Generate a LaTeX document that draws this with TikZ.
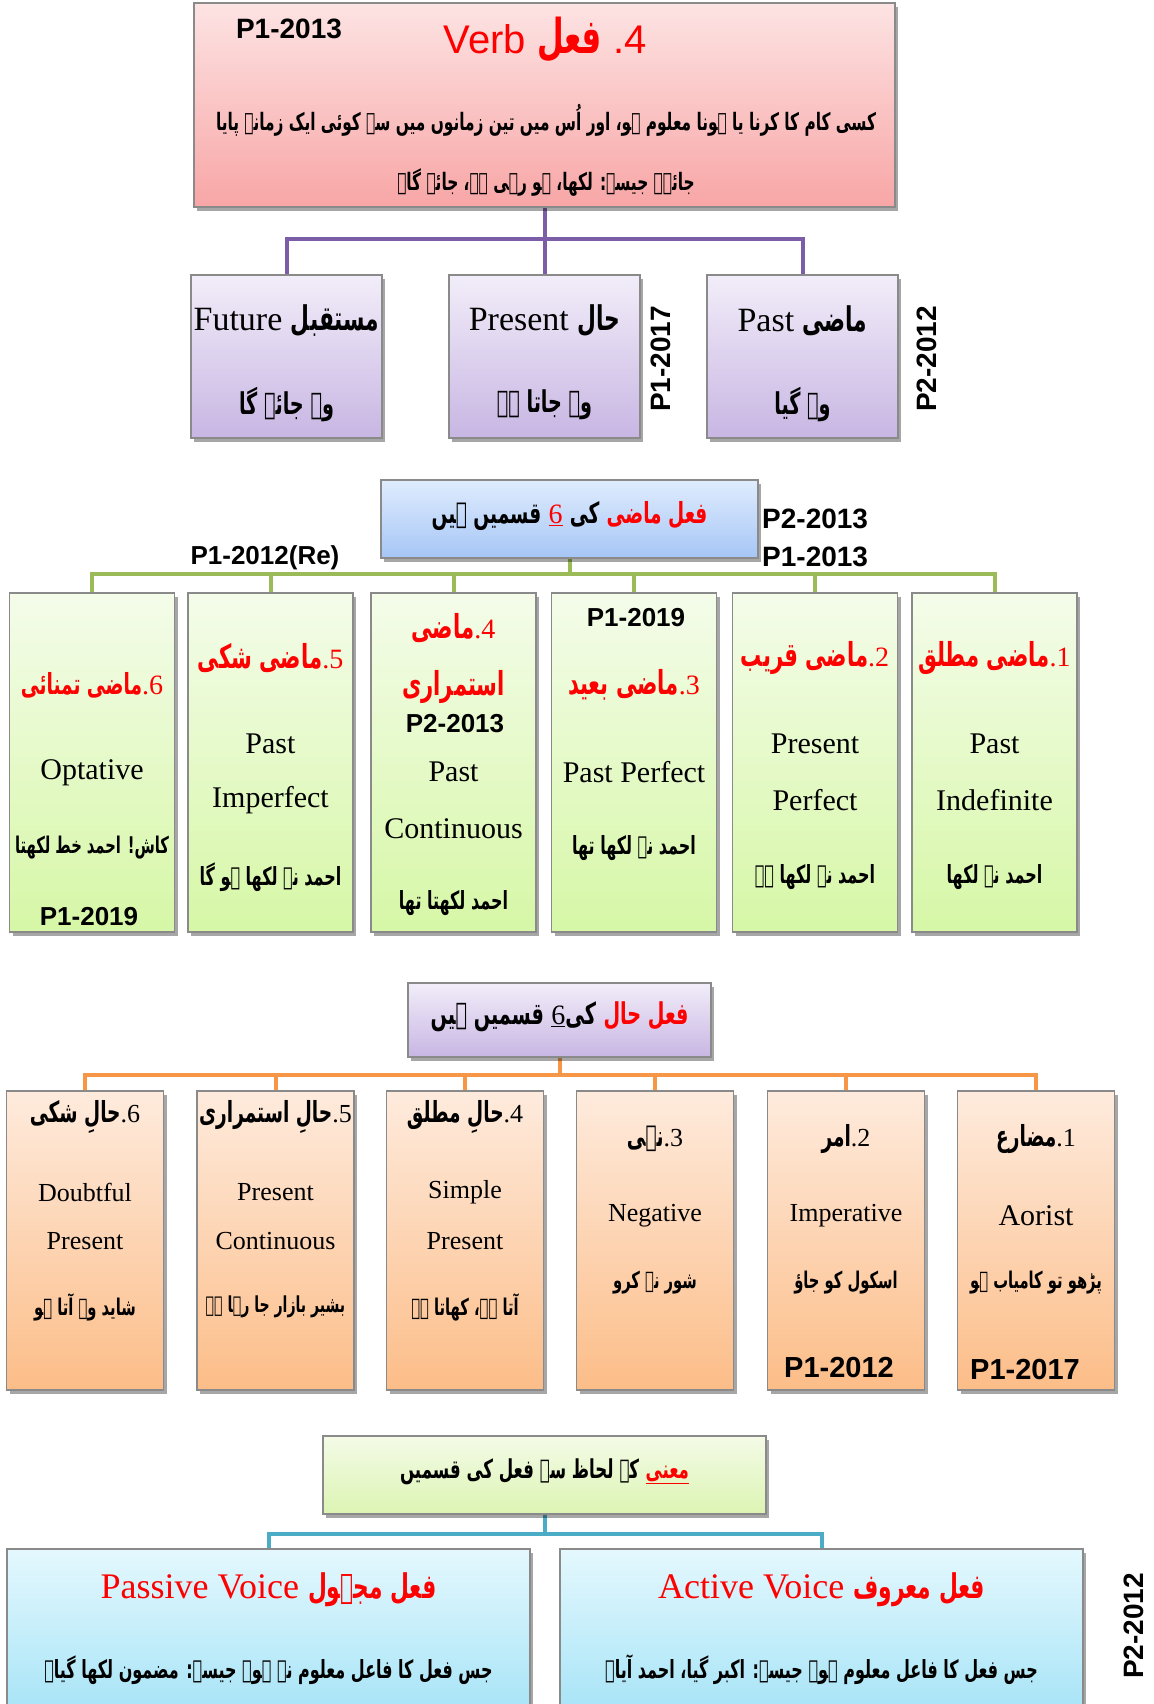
\documentclass[tikz,border=0pt]{standalone}
\usepackage{graphicx}
\usepackage{fontspec}
\setmainfont{Liberation Serif}
\newfontfamily\urfont[Script=Arabic]{DejaVu Sans Bold}
\newfontfamily\labfont{Liberation Sans}
\TeXXeTstate=1
\usetikzlibrary{shadows}
\pgfdeclarelayer{bg}
\pgfsetlayers{bg,main}
\newcommand\urt[1]{\scalebox{0.64}[1]{\urfont\beginR #1\endR}}
\newcommand\fsz[1]{\fontsize{#1}{#1}\selectfont}
\definecolor{rtop}{HTML}{FDE3E3}\definecolor{rbot}{HTML}{F8A6A6}
\definecolor{ptop}{HTML}{F2EDF9}\definecolor{pbot}{HTML}{C8B6E3}
\definecolor{btop}{HTML}{DFECFD}\definecolor{bbot}{HTML}{A6C6F6}
\definecolor{gtop}{HTML}{F4FCEA}\definecolor{gbot}{HTML}{D6F7A6}
\definecolor{otop}{HTML}{FEEBDD}\definecolor{obot}{HTML}{FCBD88}
\definecolor{ltop}{HTML}{F4FBE7}\definecolor{lbot}{HTML}{DCF4B3}
\definecolor{ctop}{HTML}{E4F8FE}\definecolor{cbot}{HTML}{A5E3F6}
\definecolor{lpurple}{HTML}{7B5EA7}
\definecolor{lgreen}{HTML}{9BBB59}
\definecolor{lorange}{HTML}{F79646}
\definecolor{lblue}{HTML}{4BACC6}
\definecolor{bord}{HTML}{8A8A8A}
\begin{document}
\begin{tikzpicture}[x=1pt,y=-1pt,
  box/.style={draw=bord, line width=1.2pt, inner sep=0pt,
    drop shadow={shadow xshift=3pt, shadow yshift=-4pt, opacity=0.35, fill=black}},
  redbox/.style={box, top color=rtop, bottom color=rbot},
  purbox/.style={box, top color=ptop, bottom color=pbot},
  bluebox/.style={box, top color=btop, bottom color=bbot},
  grnbox/.style={box, top color=gtop, bottom color=gbot, minimum width=165, minimum height=339},
  orbox/.style={box, top color=otop, bottom color=obot, minimum width=157, minimum height=299},
  limebox/.style={box, top color=ltop, bottom color=lbot},
  cyanbox/.style={box, top color=ctop, bottom color=cbot, minimum width=523, minimum height=170},
  t/.style={inner sep=0pt, align=center},
  lab/.style={inner sep=0pt, font=\labfont\bfseries\fsz{28}},
  conn/.style={line width=4pt},
]
\begin{pgfonlayer}{bg}
\fill[white] (0,0) rectangle (1153,1704);
\end{pgfonlayer}
\useasboundingbox (0,0) rectangle (1153,1704);

% ---------- top box
\node[redbox, minimum width=701, minimum height=204] (top) at (544.5,105) {};
\node[lab] (topl) at (289,29) {P1-2013};
\node[t, text=red, font=\labfont\fsz{40}] (topt) at (545,40) {Verb {\fsz{48}\urt{فعل}} .4};
\node[t, font=\fsz{24}] (topu1) at (546,120) {\urt{کسی کام کا کرنا یا ہونا معلوم ہو، اور اُس میں تین زمانوں میں سے کوئی ایک زمانہ پایا}};
\node[t, font=\fsz{24}] (topu2) at (546,183) {\urt{جائے۔ جیسے: لکھا، ہو رہی ہے، جائے گا۔}};

% ---------- three tenses
\node[purbox, minimum width=191, minimum height=163] (fut) at (286.5,356.5) {};
\node[purbox, minimum width=191, minimum height=163] (pres) at (544.5,356.5) {};
\node[purbox, minimum width=191, minimum height=163] (past) at (802.5,356.5) {};
\node[t, font=\fsz{34}] (futt) at (286.5,321) {Future {\fsz{34}\urt{مستقبل}}};
\node[t, font=\fsz{34}] (prest) at (544.5,321) {Present {\fsz{34}\urt{حال}}};
\node[t, font=\fsz{34}] (pastt) at (802.5,321) {Past {\fsz{34}\urt{ماضی}}};
\node[t, font=\fsz{30}] (futu) at (286.5,405) {\urt{وہ جائے گا}};
\node[t, font=\fsz{30}] (presu) at (544.5,405) {\urt{وہ جاتا ہے}};
\node[t, font=\fsz{30}] (pastu) at (802.5,405) {\urt{وہ گیا}};
\node[lab, rotate=90] (l17) at (661,359) {P1-2017};
\node[lab, rotate=90] (l12) at (927,359) {P2-2012};

% ---------- past heading
\node[bluebox, minimum width=377, minimum height=78] (pasth) at (569.5,519) {};
\node[t, font=\fsz{29}] (pastht) at (569.5,516) {\urt{قسمیں ہیں} {\color{red}\underline{\rmfamily\fsz{28}6}} \urt{کی} {\color{red}\urt{فعل ماضی}}};
\node[lab, anchor=west] (lp213) at (762,519) {P2-2013};
\node[lab, anchor=west] (lp113) at (762,557) {P1-2013};
\node[lab, font=\labfont\bfseries\fsz{26}] (lre) at (265,558) {P1-2012(Re)};

% ---------- six past boxes
\node[grnbox] (g1) at (92,762.5) {};
\node[grnbox] (g2) at (270.5,762.5) {};
\node[grnbox] (g3) at (453.5,762.5) {};
\node[grnbox] (g4) at (634,762.5) {};
\node[grnbox] (g5) at (815,762.5) {};
\node[grnbox] (g6) at (994.5,762.5) {};

\node[t, text=red, font=\fsz{29}] (g1t) at (92,685) {\urt{ماضی تمنائی}{\rmfamily\fsz{28}.6}};
\node[t, font=\fsz{30}] (g1e) at (92,773) {Optative};
\node[t, font=\fsz{23}] (g1u) at (92,848) {\urt{کاش! احمد خط لکھتا}};
\node[lab, font=\labfont\bfseries\fsz{26}] (g1p) at (89,917) {P1-2019};

\node[t, text=red, font=\fsz{33}] (g2t) at (270.5,658) {\urt{ماضی شکی}{\rmfamily\fsz{28}.5}};
\node[t, font=\fsz{30}] (g2e1) at (270.5,744) {Past};
\node[t, font=\fsz{30}] (g2e2) at (270.5,800) {Imperfect};
\node[t, font=\fsz{25}] (g2u) at (270.5,877) {\urt{احمد نے لکھا ہو گا}};

\node[t, text=red, font=\fsz{33}] (g3t1) at (453.5,628) {\urt{ماضی}{\rmfamily\fsz{28}.4}};
\node[t, text=red, font=\fsz{33}] (g3t2) at (453.5,687) {\urt{استمراری}};
\node[lab, font=\labfont\bfseries\fsz{26}] (g3p) at (455,724) {P2-2013};
\node[t, font=\fsz{30}] (g3e1) at (453.5,772) {Past};
\node[t, font=\fsz{30}] (g3e2) at (453.5,829) {Continuous};
\node[t, font=\fsz{25}] (g3u) at (453.5,903) {\urt{احمد لکھتا تھا}};

\node[lab, font=\labfont\bfseries\fsz{26}] (g4p) at (636,618) {P1-2019};
\node[t, text=red, font=\fsz{33}] (g4t) at (634,685) {\urt{ماضی بعید}{\rmfamily\fsz{28}.3}};
\node[t, font=\fsz{30}] (g4e) at (634,772) {Past Perfect};
\node[t, font=\fsz{25}] (g4u) at (634,848) {\urt{احمد نے لکھا تھا}};

\node[t, text=red, font=\fsz{33}] (g5t) at (815,658) {\urt{ماضی قریب}{\rmfamily\fsz{28}.2}};
\node[t, font=\fsz{30}] (g5e1) at (815,744) {Present};
\node[t, font=\fsz{30}] (g5e2) at (815,800) {Perfect};
\node[t, font=\fsz{25}] (g5u) at (815,877) {\urt{احمد نے لکھا ہے}};

\node[t, text=red, font=\fsz{33}] (g6t) at (994.5,658) {\urt{ماضی مطلق}{\rmfamily\fsz{28}.1}};
\node[t, font=\fsz{30}] (g6e1) at (994.5,744) {Past};
\node[t, font=\fsz{30}] (g6e2) at (994.5,800) {Indefinite};
\node[t, font=\fsz{25}] (g6u) at (994.5,877) {\urt{احمد نے لکھا}};

% ---------- present heading
\node[purbox, minimum width=303, minimum height=74] (presh) at (559.5,1020) {};
\node[t, font=\fsz{30}] (presht) at (559.5,1017) {\urt{قسمیں ہیں} \underline{\rmfamily\fsz{28}6}\urt{کی} {\color{red}\urt{فعل حال}}};

% ---------- six present boxes
\node[orbox] (o1) at (85,1240.5) {};
\node[orbox] (o2) at (275.5,1240.5) {};
\node[orbox] (o3) at (465,1240.5) {};
\node[orbox] (o4) at (655,1240.5) {};
\node[orbox] (o5) at (846,1240.5) {};
\node[orbox] (o6) at (1036,1240.5) {};

\node[t, font=\fsz{29}] (o1t) at (85,1117) {\urt{حالِ شکی}{\rmfamily\fsz{26}.6}};
\node[t, font=\fsz{26}] (o1e1) at (85,1192) {Doubtful};
\node[t, font=\fsz{26}] (o1e2) at (85,1241) {Present};
\node[t, font=\fsz{23}] (o1u) at (85,1307) {\urt{شاید وہ آتا ہو}};

\node[t, font=\fsz{29}] (o2t) at (275.5,1117) {\urt{حالِ استمراری}{\rmfamily\fsz{26}.5}};
\node[t, font=\fsz{26}] (o2e1) at (275.5,1192) {Present};
\node[t, font=\fsz{26}] (o2e2) at (275.5,1241) {Continuous};
\node[t, font=\fsz{22}] (o2u) at (275.5,1307) {\urt{بشیر بازار جا رہا ہے}};

\node[t, font=\fsz{29}] (o3t) at (465,1117) {\urt{حالِ مطلق}{\rmfamily\fsz{26}.4}};
\node[t, font=\fsz{26}] (o3e1) at (465,1192) {Simple};
\node[t, font=\fsz{26}] (o3e2) at (465,1241) {Present};
\node[t, font=\fsz{23}] (o3u) at (465,1307) {\urt{آتا ہے، کھاتا ہے}};

\node[t, font=\fsz{29}] (o4t) at (655,1139) {\urt{نہی}{\rmfamily\fsz{26}.3}};
\node[t, font=\fsz{26}] (o4e) at (655,1216) {Negative};
\node[t, font=\fsz{23}] (o4u) at (655,1283) {\urt{شور نہ کرو}};

\node[t, font=\fsz{29}] (o5t) at (846,1139) {\urt{امر}{\rmfamily\fsz{26}.2}};
\node[t, font=\fsz{26}] (o5e) at (846,1216) {Imperative};
\node[t, font=\fsz{23}] (o5u) at (846,1283) {\urt{اسکول کو جاؤ}};
\node[lab, font=\labfont\bfseries\fsz{29}] (o5p) at (839,1368) {P1-2012};

\node[t, font=\fsz{29}] (o6t) at (1036,1139) {\urt{مضارع}{\rmfamily\fsz{26}.1}};
\node[t, font=\fsz{30}] (o6e) at (1036,1216) {Aorist};
\node[t, font=\fsz{23}] (o6u) at (1036,1283) {\urt{پڑھو تو کامیاب ہو}};
\node[lab, font=\labfont\bfseries\fsz{29}] (o6p) at (1025,1369) {P1-2017};

% ---------- meaning heading
\node[limebox, minimum width=443, minimum height=78] (meanh) at (544.5,1475) {};
\node[t, font=\fsz{26}] (meanht) at (544.5,1472) {\urt{کے لحاظ سے فعل کی قسمیں} {\color{red}\underline{\urt{معنی}}}};

% ---------- voice boxes
\node[cyanbox] (pv) at (268.5,1634) {};
\node[cyanbox] (av) at (821.5,1634) {};
\node[t, text=red, font=\fsz{36}] (pvt) at (268.5,1590) {Passive Voice {\fsz{34}\urt{فعل مجہول}}};
\node[t, font=\fsz{25}] (pvu) at (268.5,1670) {\urt{جس فعل کا فاعل معلوم نہ ہو۔ جیسے: مضمون لکھا گیا۔}};
\node[t, text=red, font=\fsz{36}] (avt) at (821.5,1590) {Active Voice {\fsz{34}\urt{فعل معروف}}};
\node[t, font=\fsz{25}] (avu) at (821.5,1670) {\urt{جس فعل کا فاعل معلوم ہو۔ جیسے: اکبر گیا، احمد آیا۔}};
\node[lab, rotate=90] (l12b) at (1134,1626) {P2-2012};

% ---------- connectors
\coordinate (pbus) at (544.5,239);
\coordinate (gbus) at (569.5,574);
\coordinate (obus) at (559.5,1075);
\coordinate (cbus) at (544.5,1534);
\begin{pgfonlayer}{bg}
\draw[conn, lpurple] (top.south) -- (pbus);
\draw[conn, lpurple] (fut.north) |- (pbus) -| (past.north);
\draw[conn, lpurple] (pres.north) -- (pres.north |- pbus);
\draw[conn, lgreen] (pasth.south) -- (gbus);
\draw[conn, lgreen] (g1.north) |- (gbus) -| (g6.north);
\foreach \n in {g2,g3,g4,g5} \draw[conn, lgreen] (\n.north) -- (\n.north |- gbus);
\draw[conn, lorange] (presh.south) -- (obus);
\draw[conn, lorange] (o1.north) |- (obus) -| (o6.north);
\foreach \n in {o2,o3,o4,o5} \draw[conn, lorange] (\n.north) -- (\n.north |- obus);
\draw[conn, lblue] (meanh.south) -- (cbus);
\draw[conn, lblue] (pv.north) |- (cbus) -| (av.north);
\end{pgfonlayer}
\end{tikzpicture}
\end{document}
